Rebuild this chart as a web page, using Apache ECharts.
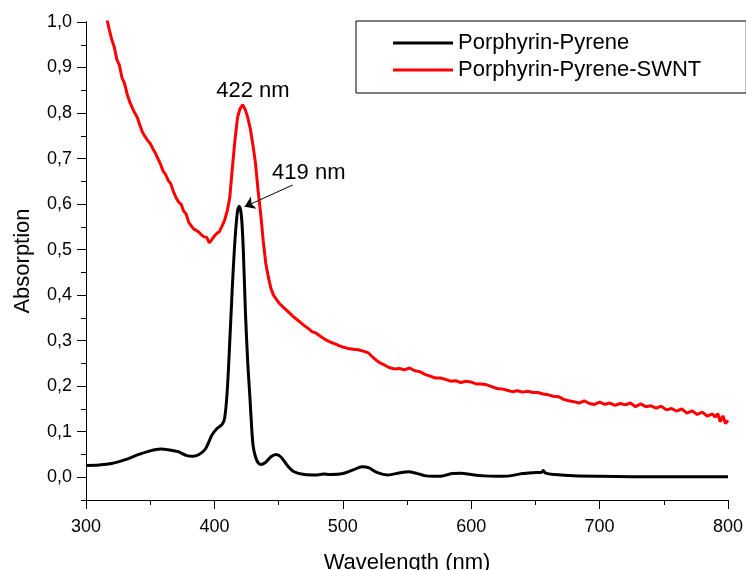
<!DOCTYPE html>
<html lang="en">
<head>
<meta charset="UTF-8">
<title>Absorption</title>
<script src="https://cdn.jsdelivr.net/npm/echarts@6/dist/echarts.min.js"></script>
<style>
  html, body { margin: 0; padding: 0; background: #fff; }
</style>
</head>
<body>
<div id="main" style="width: 746px;height:570px;"></div>
<script type="text/javascript">
// wavelength (nm) / absorption
var blackX = [300,310,320,330,340,350,358,365,372,378,383,388,393,398,402,406,408,410,412,414,416,418,419.3,421,422.5,424.2,426,427.6,429,430.2,432,434,436,440,444,448,452,457,462,470,480,485,490,500,508,515,520,527,535,545,551,558,565,575,585,592,600,610,620,630,640,648,655,656,658,665,680,700,750,800];
var blackY = [0.026,0.027,0.030,0.038,0.049,0.058,0.062,0.060,0.056,0.048,0.046,0.050,0.062,0.092,0.107,0.116,0.13,0.19,0.30,0.42,0.52,0.585,0.595,0.575,0.50,0.36,0.25,0.178,0.11,0.068,0.045,0.032,0.028,0.033,0.045,0.050,0.044,0.025,0.012,0.006,0.005,0.007,0.006,0.008,0.016,0.023,0.021,0.010,0.005,0.010,0.012,0.008,0.003,0.002,0.008,0.009,0.006,0.003,0.002,0.003,0.008,0.010,0.011,0.015,0.009,0.006,0.003,0.002,0.001,0.001];

var redX = [316,318,320,322,324,326,328,330,332,334,336,338,340,342,344,346,348,350,352,354,356,358,360,362,364,366,368,370,372,374,376,378,380,382,384,386,388,390,392,394,396,398,400,402,404,406,408,410,412,414,416,418,420,422,424,426,428,430,432,434,436,438,440,442,444,446,448,450,452,455,458,461,464,467,470,473,476,479,482,485,488,491,494,497,500,504,508,512,516,520,524,528,532,536,540,544,548,552,556,560,564,568,572,576,580,584,588,592,596,600,604,608,612,616,620,624,628,632,636,640,644,648,652,656,660,664,668,672,676,680,684,688,692,696,700,704,708,712,716,720,724,728,732,736,740,744,748,752,756,760,764,768,772,776,780,784,788,790,792,794,796,798,800];
var redY = [1.01,0.985,0.962,0.945,0.918,0.905,0.878,0.865,0.842,0.825,0.812,0.800,0.790,0.773,0.758,0.748,0.740,0.733,0.722,0.712,0.700,0.688,0.673,0.665,0.652,0.645,0.628,0.615,0.605,0.600,0.585,0.578,0.560,0.552,0.545,0.542,0.538,0.532,0.528,0.527,0.515,0.522,0.530,0.536,0.540,0.552,0.565,0.585,0.615,0.680,0.740,0.790,0.810,0.818,0.808,0.790,0.765,0.730,0.690,0.630,0.580,0.520,0.470,0.440,0.415,0.400,0.392,0.384,0.378,0.370,0.362,0.354,0.347,0.340,0.333,0.327,0.320,0.317,0.311,0.305,0.300,0.296,0.293,0.289,0.286,0.283,0.281,0.280,0.277,0.273,0.262,0.253,0.247,0.241,0.238,0.239,0.236,0.240,0.234,0.232,0.226,0.222,0.218,0.218,0.215,0.211,0.212,0.208,0.211,0.209,0.205,0.205,0.203,0.199,0.195,0.194,0.191,0.188,0.190,0.187,0.189,0.186,0.186,0.183,0.181,0.178,0.177,0.171,0.168,0.166,0.163,0.168,0.162,0.160,0.165,0.160,0.163,0.158,0.162,0.159,0.163,0.155,0.161,0.155,0.157,0.152,0.156,0.148,0.151,0.145,0.150,0.141,0.146,0.138,0.143,0.134,0.139,0.132,0.140,0.122,0.135,0.118,0.125];

var seriesNames = ['Porphyrin-Pyrene', 'Porphyrin-Pyrene-SWNT'];
var yMajorTicks = [0, 0.1, 0.2, 0.3, 0.4, 0.5, 0.6, 0.7, 0.8, 0.9, 1.0];

function pairs(xs, ys) {
    return xs.map(function (x, i) { return [x, ys[i]]; });
}

var font = 'Arial, "Liberation Sans", sans-serif';
var myChart = echarts.init(document.getElementById('main'));

myChart.setOption({
    animation: false,
    textStyle: { fontFamily: font, color: '#000' },
    grid: { left: 86, right: 18, top: 22, bottom: 70, containLabel: false, outerBoundsMode: 'none' },
    legend: {
        orient: 'vertical',
        left: 356,
        top: 21,
        padding: [11, 45, 12, 37],
        itemGap: 5,
        itemWidth: 60,
        itemHeight: 3,
        icon: 'rect',
        borderColor: '#000',
        borderWidth: 1,
        textStyle: { fontSize: 22, fontFamily: font, color: '#000' },
        data: seriesNames
    },
    xAxis: {
        type: 'value',
        min: 300,
        max: 800,
        interval: 100,
        name: 'Wavelength (nm)',
        nameLocation: 'middle',
        nameGap: 52,
        nameTextStyle: { fontSize: 22, fontFamily: font, color: '#000' },
        axisLine: { onZero: false, lineStyle: { color: '#000', width: 1 } },
        axisTick: { length: 9, lineStyle: { color: '#000' } },
        minorTick: { show: true, splitNumber: 2, length: 5, lineStyle: { color: '#000' } },
        axisLabel: { fontSize: 18, margin: 18, color: '#000', fontFamily: font },
        splitLine: { show: false }
    },
    yAxis: [{
        type: 'value',
        position: 'left',
        min: -0.05,
        max: 1.0,
        name: 'Absorption',
        nameLocation: 'middle',
        nameGap: 52,
        nameTextStyle: { fontSize: 22, fontFamily: font, color: '#000' },
        axisLine: { show: true, onZero: false, lineStyle: { color: '#000', width: 1 } },
        axisTick: { show: true, length: 9, customValues: yMajorTicks, lineStyle: { color: '#000' } },
        axisLabel: {
            fontSize: 18, margin: 14, color: '#000', fontFamily: font,
            customValues: yMajorTicks,
            formatter: function (v) { return v.toFixed(1).replace('.', ','); }
        },
        splitLine: { show: false }
    }, {
        type: 'value',
        position: 'left',
        min: -0.05,
        max: 1.0,
        interval: 0.05,
        axisLine: { show: true, onZero: false, lineStyle: { color: '#000', width: 1 } },
        axisLabel: { show: false },
        axisTick: { show: true, length: 5, lineStyle: { color: '#000' } },
        splitLine: { show: false }
    }],
    series: [
        {
            name: seriesNames[0],
            type: 'line',
            data: pairs(blackX, blackY),
            showSymbol: false,
            smooth: 0.3,
            color: '#000',
            lineStyle: { width: 3, color: '#000' },
            z: 3,
            markLine: {
                silent: true,
                symbol: ['none', 'arrow'],
                symbolSize: 10,
                label: { show: false },
                lineStyle: { color: '#000', width: 1, type: 'solid' },
                data: [[{ coord: [461, 0.642] }, { coord: [423.5, 0.594] }]]
            }
        },
        {
            name: seriesNames[1],
            type: 'line',
            data: pairs(redX, redY),
            showSymbol: false,
            color: '#ff0000',
            lineStyle: { width: 3, color: '#ff0000' },
            z: 2,
            markPoint: {
                silent: true,
                symbol: 'circle',
                symbolSize: 0,
                label: {
                    show: true, position: 'inside', fontSize: 22, color: '#000', fontFamily: font,
                    formatter: function (p) { return p.name; }
                },
                data: [
                    { name: '422 nm', coord: [430, 0.849] },
                    { name: '419 nm', coord: [473.5, 0.668] }
                ]
            }
        }
    ]
});
</script>
</body>
</html>
